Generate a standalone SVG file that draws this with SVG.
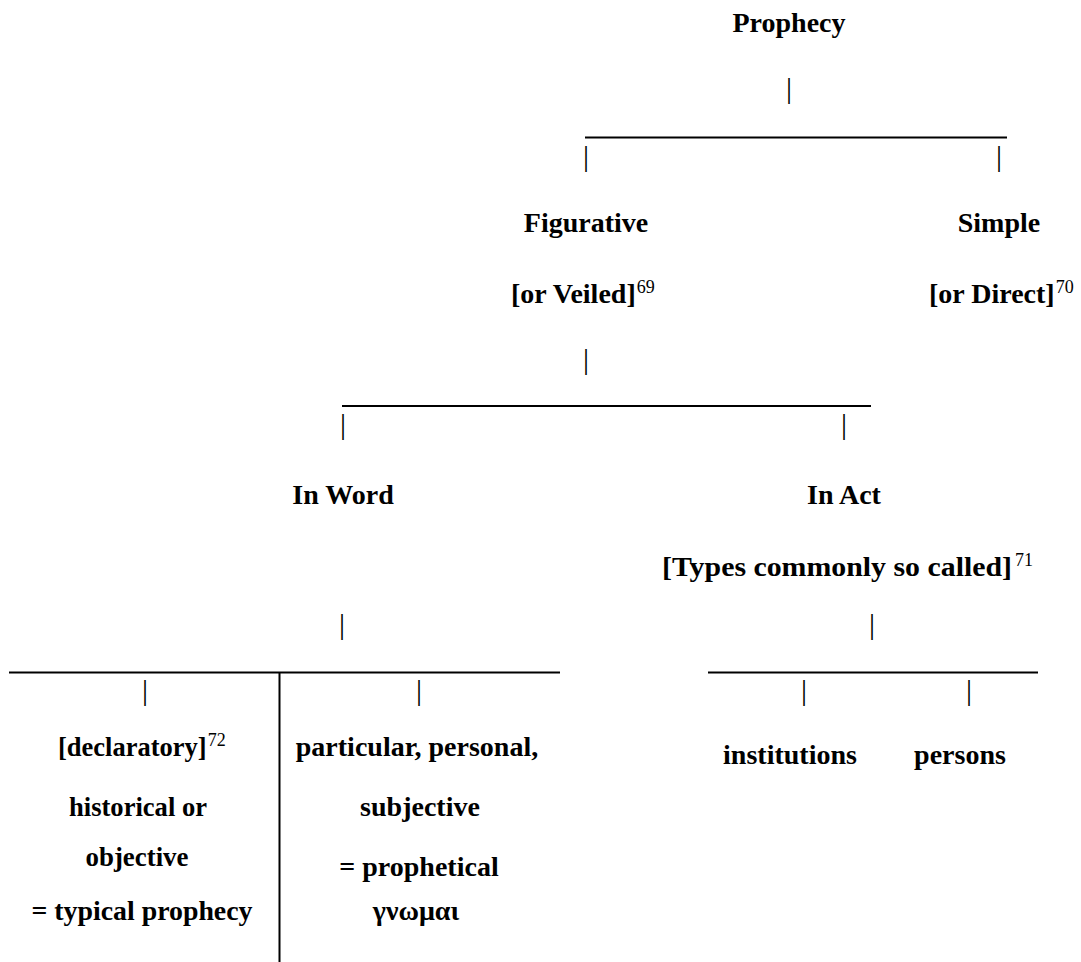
<svg xmlns="http://www.w3.org/2000/svg" width="1081" height="962" viewBox="0 0 1081 962">
<style>
.t{font-family:"Liberation Serif","Times New Roman",serif;font-weight:bold;font-size:28px;fill:#000}
.c{text-anchor:middle}
.sup{font-family:"Liberation Serif","Times New Roman",serif;font-weight:normal;font-size:18px;fill:#000}
.bar{font-family:"Liberation Serif","Times New Roman",serif;font-weight:normal;font-size:30px;fill:#000;text-anchor:middle}
.ln{stroke:#000;stroke-width:2;fill:none}
</style>
<rect width="1081" height="962" fill="#fff"/>
<g id="connectors">
<text class="bar" x="789" y="98">|</text>
<line class="ln" x1="585" y1="137.5" x2="1007" y2="137.5"/>
<text class="bar" x="586" y="166">|</text>
<text class="bar" x="999" y="166">|</text>
<text class="bar" x="586" y="369">|</text>
<line class="ln" x1="342" y1="406" x2="871" y2="406"/>
<text class="bar" x="343" y="434">|</text>
<text class="bar" x="844" y="434">|</text>
<text class="bar" x="342" y="634">|</text>
<text class="bar" x="872" y="634">|</text>
<line class="ln" x1="9" y1="672.5" x2="560" y2="672.5"/>
<line class="ln" x1="708" y1="672.5" x2="1038" y2="672.5"/>
<line class="ln" x1="279.5" y1="672" x2="279.5" y2="962"/>
<text class="bar" x="145" y="700">|</text>
<text class="bar" x="419" y="700">|</text>
<text class="bar" x="804" y="700">|</text>
<text class="bar" x="969" y="700">|</text>
</g>
<g id="prophecy"><text class="t c" x="789" y="32">Prophecy</text></g>
<g id="figurative">
<text class="t c" x="586" y="232">Figurative</text>
<text class="t" x="511" y="303">[or Veiled]<tspan class="sup" dx="1" dy="-10">69</tspan></text>
</g>
<g id="simple">
<text class="t c" x="999" y="232">Simple</text>
<text class="t" x="929" y="303">[or Direct]<tspan class="sup" dx="1" dy="-10">70</tspan></text>
</g>
<g id="in-word"><text class="t c" x="343" y="504">In Word</text></g>
<g id="in-act">
<text class="t c" x="844" y="504">In Act</text>
<text class="t" x="662" y="576" textLength="350" lengthAdjust="spacingAndGlyphs">[Types commonly so called]</text>
<text class="sup" x="1015" y="566">71</text>
</g>
<g id="declaratory">
<text class="t" x="58" y="756" style="font-size:26.5px">[declaratory]<tspan class="sup" dx="1" dy="-10">72</tspan></text>
<text class="t c" x="138" y="816" textLength="138" lengthAdjust="spacingAndGlyphs">historical or</text>
<text class="t c" x="137" y="866" textLength="103" lengthAdjust="spacingAndGlyphs">objective</text>
<text class="t c" x="142" y="920" textLength="221" lengthAdjust="spacingAndGlyphs">= typical prophecy</text>
</g>
<g id="particular">
<text class="t c" x="417" y="756">particular, personal,</text>
<text class="t c" x="420" y="816">subjective</text>
<text class="t c" x="419" y="876">= prophetical</text>
<text class="t c" x="416" y="920">γνωμαι</text>
</g>
<g id="institutions"><text class="t c" x="790" y="764">institutions</text></g>
<g id="persons"><text class="t c" x="960" y="764">persons</text></g>
</svg>
